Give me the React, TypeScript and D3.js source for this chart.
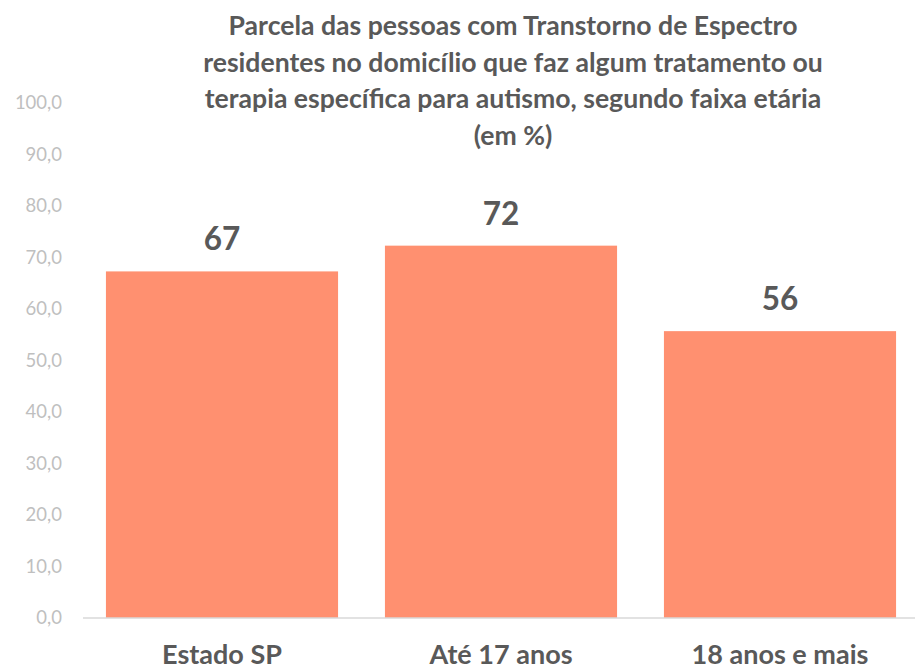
import React from "react";
import * as d3 from "d3";

const categories = ["Estado SP", "Até 17 anos", "18 anos e mais"];
const values = [67.3, 72.3, 55.7];
const valueLabels = ["67", "72", "56"];
const yTicks = [0, 10, 20, 30, 40, 50, 60, 70, 80, 90, 100];
const titleLines = [
  "Parcela das pessoas com Transtorno de Espectro",
  "residentes no domicílio que faz algum tratamento ou",
  "terapia específica para autismo, segundo faixa etária",
  "(em %)",
];

const W = 915;
const H = 671;
const FONT = "Lato, 'Open Sans', sans-serif";

export default function App() {
  const x = d3.scaleBand<string>().domain(categories).range([82.5, 919.5]).paddingInner(0.168).paddingOuter(0.084);
  const y = d3.scaleLinear().domain([0, 100]).range([618, 103]);
  const fmt = (v: number) => d3.format(".1f")(v).replace(".", ",");
  return (
    <svg width={W} height={H} style={{ position: "absolute", left: 0, top: 0, background: "#fff" }}>
      {titleLines.map((t, i) => (
        <text key={i} x={513} y={35 + i * 36.5} textAnchor="middle" fontFamily={FONT} fontWeight={700} fontSize={26.6} fill="#595959">
          {t}
        </text>
      ))}
      {yTicks.map((t) => (
        <text key={t} x={62} y={y(t)} dy="0.35em" textAnchor="end" fontFamily={FONT} fontSize={18.5} fill="#BFBFBF">
          {fmt(t)}
        </text>
      ))}
      {categories.map((c, i) => (
        <g key={c}>
          <rect x={x(c)} y={y(values[i])} width={x.bandwidth()} height={y(0) - y(values[i])} fill="#FF9070" />
          <text x={(x(c) as number) + x.bandwidth() / 2} y={y(values[i]) - 21} textAnchor="middle" fontFamily={FONT} fontWeight={700} fontSize={31.5} fill="#595959">
            {valueLabels[i]}
          </text>
          <text x={(x(c) as number) + x.bandwidth() / 2} y={664} textAnchor="middle" fontFamily={FONT} fontWeight={700} fontSize={27} fill="#595959">
            {c}
          </text>
        </g>
      ))}
      <line x1={83} x2={919} y1={y(0)} y2={y(0)} stroke="#D9D9D9" strokeWidth={1.5} />
    </svg>
  );
}
